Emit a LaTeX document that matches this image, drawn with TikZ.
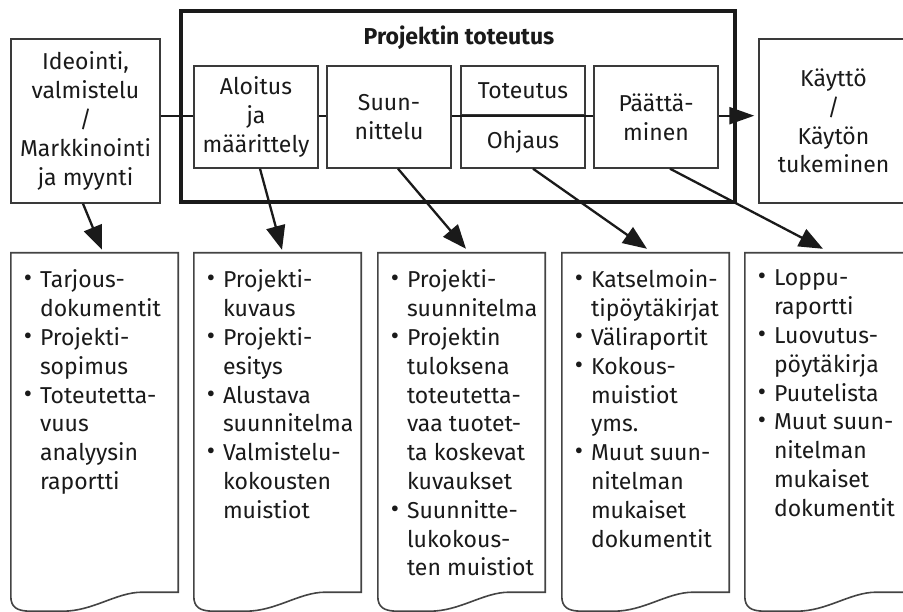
\documentclass[tikz,border=0pt]{standalone}
\usepackage{fontspec}
\setmainfont{Fira Sans}
\usetikzlibrary{arrows.meta}

\definecolor{ink}{HTML}{1A1A1A}
\definecolor{boxgray}{HTML}{3A3A3A}
\definecolor{docgray}{HTML}{444444}

\newcommand{\fs}{\fontsize{23}{28.8}\selectfont}
\newcommand{\bul}{\llap{\raisebox{1pt}{\scalebox{1.1}{\textbullet}}\hspace{8pt}}}

% outline of a document symbol with a wavy lower edge, drawn round node #1
\newcommand{\docoutline}[1]{%
  \draw[docline] (#1.north west) -- (#1.north east)
    -- ([yshift=19pt]#1.south east)
    -- ([xshift=-36pt,yshift=19pt]#1.south east)
    .. controls ([xshift=-62pt,yshift=19pt]#1.south east) and ([xshift=-85pt]#1.south east)
    .. ([xshift=52pt]#1.south west)
    -- ([xshift=20pt]#1.south west)
    .. controls ([xshift=6pt]#1.south west) and ([yshift=4pt]#1.south west)
    .. ([yshift=15pt]#1.south west) -- cycle;}

\tikzset{
  box/.style={draw=boxgray, line width=1.4pt, rectangle, inner sep=0pt,
    align=center, font=\fs, text=ink},
  frame/.style={draw=ink, line width=3.6pt, rectangle, inner sep=0pt},
  docarea/.style={rectangle, inner sep=0pt, minimum width=167pt, minimum height=358pt},
  docline/.style={draw=docgray, line width=1.6pt, line join=miter},
  doctext/.style={inner sep=0pt, align=left, font=\fs, text=ink, anchor=north west},
  flow/.style={draw=ink, line width=2.3pt},
  arr/.style={flow, -{Triangle[length=24pt,width=19pt]}},
}

\begin{document}
\begin{tikzpicture}[x=1pt,y=-1pt]
\useasboundingbox (0,0) rectangle (903,612);
\fill[white] (0,0) rectangle (903,612);
\clip (0,0) rectangle (903,612);

% project frame and its title
\node[frame, minimum width=554pt, minimum height=191pt] (frame) at (458,106.5) {};
\node[font=\fs\bfseries, text=ink, inner sep=0pt] (title) at (459,38) {Projektin toteutus};

% phase boxes
\node[box, minimum width=149pt, minimum height=164pt] (idea) at (85.5,121)
  {Ideointi,\\valmistelu\\/\\Markkinointi\\ja myynti};
\node[box, minimum width=124pt, minimum height=102pt] (aloitus) at (256,117)
  {Aloitus\\ja\\määrittely};
\node[box, minimum width=124pt, minimum height=102pt] (suun) at (389,117)
  {Suun-\\nittelu};
\node[box, minimum width=124pt, minimum height=49pt] (tot) at (523,90.5) {Toteutus};
\node[box, minimum width=124pt, minimum height=53pt] (ohj) at (523,141.5) {Ohjaus};
\node[box, minimum width=124pt, minimum height=102pt] (paat) at (656,117)
  {Päättä-\\minen};
\node[box, minimum width=149pt, minimum height=164pt] (kaytto) at (833.5,121)
  {Käyttö\\/\\Käytön\\tukeminen};

% main flow line
\draw[flow] (idea.east |- tot.south) -- (aloitus.west |- tot.south);
\draw[flow] (aloitus.east |- tot.south) -- (suun.west |- tot.south);
\draw[flow] (suun.east |- tot.south) -- (paat.west |- tot.south);
\draw[flow, -{Triangle[length=25pt,width=17pt]}] (paat.east |- tot.south)
  -- ([xshift=-4pt]kaytto.west |- tot.south);

% document symbols
\node[docarea] (d1) at (94.5,432) {};
\node[docarea] (d2) at (277.5,432) {};
\node[docarea] (d3) at (461.5,432) {};
\node[docarea] (d4) at (645.5,432) {};
\node[docarea] (d5) at (828.5,432) {};
\docoutline{d1}\docoutline{d2}\docoutline{d3}\docoutline{d4}\docoutline{d5}

\node[doctext] (t1) at ([xshift=29pt,yshift=-17pt]d1.north west)
  {\bul Tarjous-\\dokumentit\\\bul Projekti-\\sopimus\\\bul Toteutetta-\\vuus\\analyysin\\raportti};
\node[doctext] (t2) at ([xshift=29pt,yshift=-17pt]d2.north west)
  {\bul Projekti-\\kuvaus\\\bul Projekti-\\esitys\\\bul Alustava\\suunnitelma\\\bul Valmistelu-\\kokousten\\muistiot};
\node[doctext] (t3) at ([xshift=29pt,yshift=-17pt]d3.north west)
  {\bul Projekti-\\suunnitelma\\\bul Projektin\\tuloksena\\toteutetta-\\vaa tuotet-\\ta koskevat\\kuvaukset\\\bul Suunnitte-\\lukokous-\\ten muistiot};
\node[doctext] (t4) at ([xshift=29pt,yshift=-17pt]d4.north west)
  {\bul Katselmoin-\\tipöytäkirjat\\\bul Väliraportit\\\bul Kokous-\\muistiot\\yms.\\\bul Muut suun-\\nitelman\\mukaiset\\dokumentit};
\node[doctext] (t5) at ([xshift=29pt,yshift=-17pt]d5.north west)
  {\bul Loppu-\\raportti\\\bul Luovutus-\\pöytäkirja\\\bul Puutelista\\\bul Muut suun-\\nitelman\\mukaiset\\dokumentit};

% phases to their documents
\draw[arr] ([xshift=-2.5pt]idea.south) -- ([xshift=7.5pt,yshift=3pt]d1.north);
\draw[arr] ([xshift=4pt]aloitus.south) -- ([xshift=4.5pt,yshift=3pt]d2.north);
\draw[arr] ([xshift=9pt]suun.south) -- ([xshift=4.5pt,yshift=4pt]d3.north);
\draw[arr] ([xshift=10pt]ohj.south) -- ([xshift=1.5pt,yshift=4pt]d4.north);
\draw[arr] ([xshift=14pt]paat.south) -- ([xshift=-5.5pt,yshift=4pt]d5.north);
\end{tikzpicture}
\end{document}
